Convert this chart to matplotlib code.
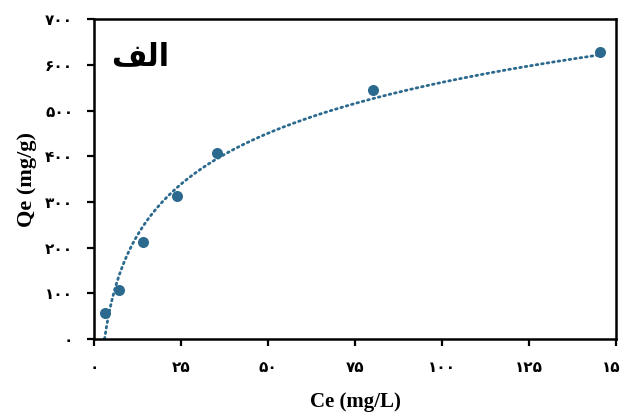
import numpy as np
import matplotlib
matplotlib.use('Agg')
from matplotlib import pyplot as plt

# data
ce = [3.2, 7.2, 14.1, 23.9, 35.3, 80.2, 145.4]
qe = [56.5, 106.5, 213, 313, 406.5, 545.6, 628]
x_ticks = [0, 25, 50, 75, 100, 125, 150]
x_labels = ['۰', '۲۵', '۵۰', '۷۵', '۱۰۰', '۱۲۵', '۱۵۰']
y_ticks = [0, 100, 200, 300, 400, 500, 600, 700]
y_labels = ['۰', '۱۰۰', '۲۰۰', '۳۰۰', '۴۰۰', '۵۰۰', '۶۰۰', '۷۰۰']
# "الف" in shaped, visual order (matplotlib does no Arabic shaping)
panel = '\uFED2\uFEDF\uFE8D'

color = '#2b6a8e'

fig = plt.figure(figsize=(6.21, 4.17), dpi=100)
ax = fig.add_axes([0.1514, 0.187, 0.8406, 0.767])

ax.scatter(ce, qe, s=48, color=color, zorder=3)

# logarithmic trend line (least squares on ln x)
a, b = np.polyfit(np.log(ce), qe, 1)
xs = np.linspace(np.exp(-b / a), max(ce), 300)
ax.plot(xs, a * np.log(xs) + b, color=color, lw=2, ls=(0, (0.6, 1.4)),
        dash_capstyle='round')

ax.set_xlim(0, 150)
ax.set_ylim(0, 700)
ax.set_xticks(x_ticks)
ax.set_xticklabels(x_labels, fontsize=11, fontweight='bold', family='DejaVu Sans')
ax.set_yticks(y_ticks)
ax.set_yticklabels(y_labels, fontsize=11, fontweight='bold', family='DejaVu Sans')
ax.tick_params(direction='out', length=5, width=1.6, pad=10)
for s in ax.spines.values():
    s.set_linewidth(1.8)

ax.set_xlabel('Ce (mg/L)', fontsize=15, fontweight='bold', family='Liberation Serif', labelpad=12)
ax.set_ylabel('Qe (mg/g)', fontsize=16, fontweight='bold', family='Liberation Serif', labelpad=6)

ax.text(13.2, 617, panel, fontsize=22, fontweight='bold', family='DejaVu Sans',
        ha='center', va='center')

fig.savefig('out.png', dpi=100)
